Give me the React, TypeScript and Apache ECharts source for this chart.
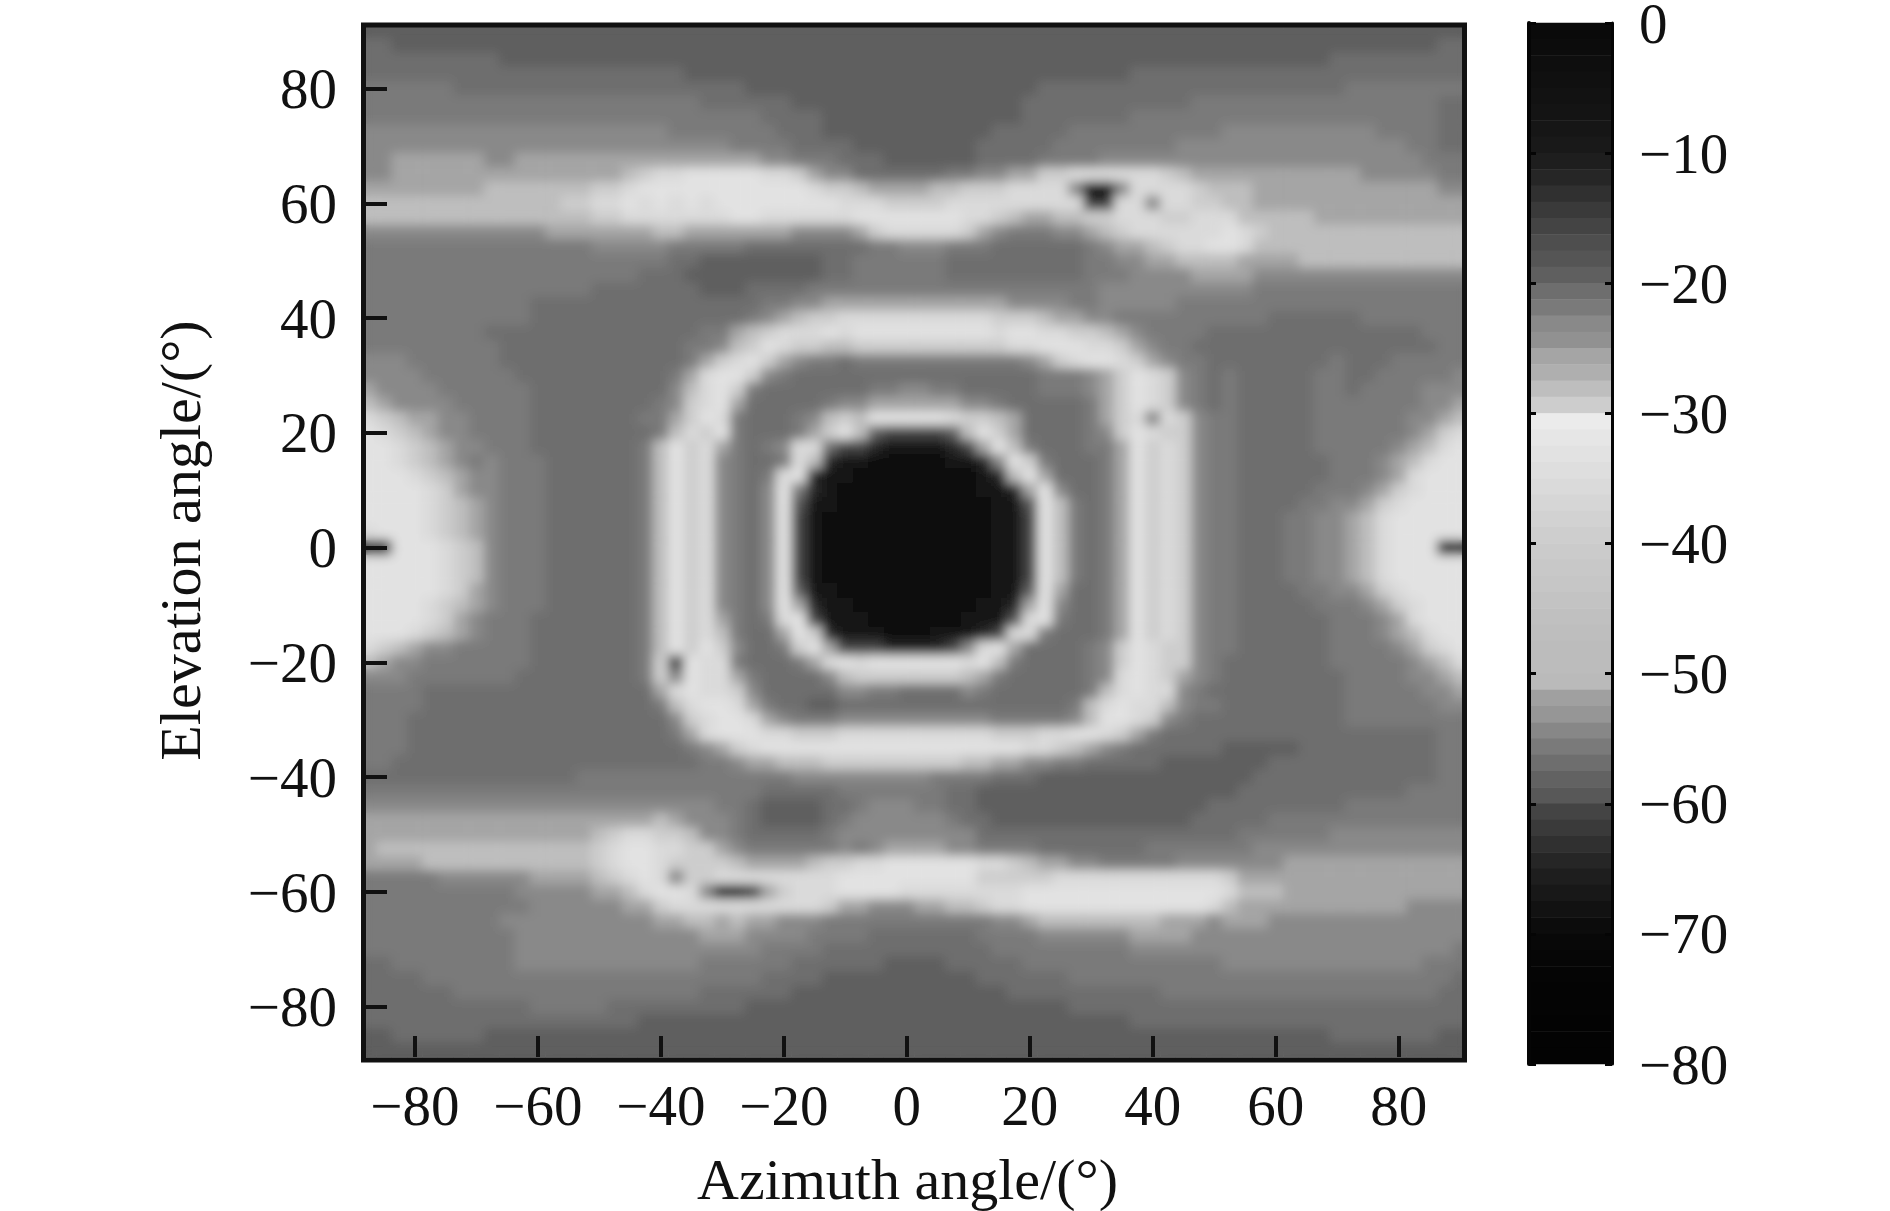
import React, { useEffect, useRef } from "react";
import * as echarts from "echarts";

const azimuthCategories = ["-87.5","-85","-82.5","-80","-77.5","-75","-72.5","-70","-67.5","-65","-62.5","-60","-57.5","-55","-52.5","-50","-47.5","-45","-42.5","-40","-37.5","-35","-32.5","-30","-27.5","-25","-22.5","-20","-17.5","-15","-12.5","-10","-7.5","-5","-2.5","0","2.5","5","7.5","10","12.5","15","17.5","20","22.5","25","27.5","30","32.5","35","37.5","40","42.5","45","47.5","50","52.5","55","57.5","60","62.5","65","67.5","70","72.5","75","77.5","80","82.5","85","87.5","90"];
const elevationCategories = [...azimuthCategories];

// dB value of every code used in the table below
const levelCodes: Record<string, number> = {
  "0": -3, "1": -8, "2": -12, "3": -15.5, "4": -18, "5": -19.5, "6": -21, "7": -22, "8": -23.5, "9": -25.5,
  a: -28, b: -29.5, c: -36, d: -32.5, x: -75, y: -62, z: -54,
};

// elevation 90 (first row) to -87.5 (last row); azimuth -87.5 to 90, grouped in eights
const patternRows = [
"55555555 55555555 55555555 55555555 55555555 55555555 55555555 55555555 55555555",
"66555555 55555555 55555555 55555555 55555555 55555555 55555555 55555555 55555566",
"66666666 65555555 55555555 55555555 55555555 55555555 55555555 55555556 66666666",
"66666666 66666666 66666555 55555555 55555555 55555555 55666666 66666666 66666666",
"77777766 66666666 66666666 65555555 55555555 55556666 66666666 66666666 77777777",
"77777777 77777777 77777766 66665555 55555555 55566666 66666677 77777777 77777766",
"77777777 77777777 77777777 77666655 55555555 55566666 66777777 77777777 77777766",
"88888888 88888888 88887777 77766655 55555555 56666677 77777777 88888888 88777766",
"88888888 88888888 88888888 77776666 55555555 66666777 77777888 88888888 88887766",
"88999999 88999999 99999999 99887776 66555555 66667777 88888888 88888888 88888777",
"88999999 99999999 9abccddd ddccb988 66666677 8899bbcc ccccba99 99999999 98888877",
"99999999 aaaaaaab bcdddddd dddddcbb a9999aab bbcccczx xzccccba aa999999 99999988",
"aaaaaaaa aaaaabbc cdcdcdcd dddddddc ccbbbbcc cccccccy ycczccbb aa999999 99999999",
"aaaaaaaa aaaaaaab bccccccc ddcccccc dddddddc cba99aab bcccbbcc caaaaa99 99999999",
"88888888 88889999 999aa999 99998888 9bcccccb 98777889 abcccccc dcbaaaaa aaaaaaaa",
"77777777 77777778 88887777 76666666 67788877 76666667 899abccd dcaaaaaa aaaaaaaa",
"77777777 77777777 77776655 55555566 77777766 66666667 78899aaa a9999aaa aaaaaaaa",
"77777777 77777777 77666555 55555566 77777766 66666667 77888899 99888888 88888888",
"77777777 77777776 66666655 56666777 77777777 77777777 88888888 88777777 77777777",
"77777777 77766666 66666666 66778899 99999999 99888877 88888777 77777777 77777777",
"77777777 77766666 66666666 6789abbc cccccccc cbbba998 87777777 77766666 67777777",
"77777777 66666666 66666677 9abcccdc dddddddd dcddccbb a9877776 66666666 66666777",
"77777777 76666666 66666778 abdcbbaa bbbbbbbb bbccdddc cb987766 66666666 66666677",
"88877777 76666666 6666679b cdb98776 77777777 77789bcd dcb98776 66666667 66677777",
"88887777 77666666 666679cd db876666 66666666 66667778 9bdcb876 76666677 66777778",
"98888777 77766666 66668acd b7666666 67788776 66667778 9bdcb876 76666677 67777888",
"a9888877 77766666 66678bcd 96666678 89999998 87666667 9bdcb876 76666677 77777889",
"cba99887 77766666 66779bdc 7666 78ab adddddcb ba966667 9bczcb87 76666677 7777889a",
"dcba9887 77766666 6667acbd 7666 79bd a5333 35a db966667 8bdcbb87 76666677 777789bc",
"ddcba988 77766666 667adbc9 7678cc63 32111123 9da76667 79dbcb87 76666677 77789acd",
"ddcba987 87776666 667adbc8 7667ca21 10000011 28db7666 79dbcb87 76666667 7789acdd",
"dddcba98 87776666 667adbc8 767cd211 00000000 12ad9666 79dbcb87 76666667 7789cddd",
"ddddcb98 87776666 667adbc8 768d7210 00000000 1129d866 79dbcb87 76666677 789bcddd",
"ddddcba9 87776666 667adbc8 768d4110 00000000 0114da76 79dbcb87 76666778 89bcdddd",
"ddddcba9 87776666 667adbc8 768d3100 00000000 0113da76 79dbcb87 76667788 9acddddd",
"cdddcba9 87776666 667adbc8 768d3100 00000000 0113da76 79dbcb87 76667788 9acddddd",
"xxdddcba 87776666 667adbc8 768d3100 00000000 0113da76 79dbcb87 76667788 9acdddxx",
"dddddcba 87776666 667adbc8 768d3100 00000000 0113da76 79dbcb87 76667788 9acddddd",
"dddddcba 87776666 667adbc8 768d3100 00000000 0113da76 79dbcb87 76667788 9acddddd",
"dddddcb9 87776666 667adbc8 768d5110 00000000 0115d966 79dbcb87 76666778 89bcdddd",
"ddddcba9 87776666 667adbc8 768d9211 00000000 1129d866 79dbcb87 76666677 789bcddd",
"ddddcb98 77766666 667adbc9 767cd311 10000001 114cd766 79dbcb87 76666667 7789cddd",
"dddcba98 77766666 667adbca 7669db21 11000111 23cc7666 79dbcb87 76666667 7789acdd",
"cba98877 77766666 667adbdb 8667bd93 33222238 cd966667 8bdcbb87 76666667 77789bcd",
"a9887777 77766666 667bydcc 766679cd cddddddc da766667 8bdcbb87 66666667 777789ac",
"88877777 77666666 667bzdcc 97666 68a bbbbbbba 97666667 8cdcb987 66666666 7777889a",
"77776666 66666666 6669cdcc b8666668 87766668 76666667 acdcc876 66666666 77777889",
"77776666 66666666 6667acdd c9766556 66666666 6666667a cdcca877 66666666 77777788",
"77766666 66666666 66668bcd dc987778 88888888 8777778a ddcb8766 66666666 77777777",
"77766666 66666666 666679cd ddccbbbc cccccccc cbbbccdd cb976666 66666666 66666677",
"77766666 66666666 66666789 bcdddddd dddddddd dddccba9 87666666 55555666 66666677",
"77666666 66666666 66666677 899aaabb bbbbbbba a9988776 66665555 55566666 66666677",
"66666666 66666677 77777777 77778888 88888777 76665555 55555555 55666666 66666677",
"77777777 77777777 77777777 77666667 77777766 55555555 55555555 56666666 66667777",
"88888888 88888888 88888887 76555566 78887766 55555555 55555556 66666666 77777777",
"99999999 99999999 999a9888 76555567 88888876 65555555 55555566 66677777 77777777",
"99999999 9999999a bccbba88 76666678 88888888 66666666 66666666 67777778 88888888",
"9aaaaaaa aaaaaaab cddccbb9 87777778 78999988 77776666 66677777 77888888 88888888",
"9999aaaa aaaaaaab cddcbbbb a9999abb ccdddddd ccba9988 77777888 88889999 99999999",
"77777888 8889999a bcdczbbc cccccccd dddddddd bbbbbccc cccccccc b9999999 99999999",
"77777777 77888889 9acddczx xy9bcccd dddccccc cccddddd dddddddd caaa9999 99999999",
"77777777 77788888 899bcccc ccccccb9 988899aa bccddddd dddddddc a9999999 99998888",
"77777777 78888888 88899aa9 a9988877 77777777 7889aaaa aaaa9998 99988888 88888888",
"77777777 77888888 88888899 98888777 76666666 77778888 88999988 88888888 88888888",
"77777777 77888888 88888888 88777766 66666666 67777777 77888888 88888888 88888887",
"66777777 77888888 88888877 77776666 66555566 66677777 77777777 88888888 88888777",
"66667777 77777777 77777777 77666655 55555555 66666677 77777777 77777777 77777776",
"66666677 77777777 77777766 66665555 55555555 55666666 66667777 77777777 77777766",
"66666666 66677777 66666666 65555555 55555555 55555566 66666666 66666666 66666666",
"66666666 66666666 66555555 55555555 55555555 55555555 55666666 66666666 66666666",
"55666666 55555555 55555555 55555555 55555555 55555555 55555555 55555556 66666655",
"55555555 55555555 55555555 55555555 55555555 55555555 55555555 55555555 55555555",
];

// colour bar: grey of each 1.25 dB step, from 0 dB down to -80 dB
const barGreys = [
  10, 12, 14, 16, 18, 20, 22, 25,
  30, 38, 48, 58, 68, 78, 85, 95,
  110, 122, 137, 145, 165, 175, 190, 205,
  235, 230, 226, 222, 218, 214, 210, 206,
  203, 200, 198, 195, 192, 190, 188, 188,
  186, 160, 150, 135, 122, 110, 98, 88,
  68, 58, 48, 38, 30, 24, 18, 12,
  8, 6, 5, 4, 4, 3, 3, 3,
];

const FONT = "Liberation Serif";
const INK = "#111111";
const SVG_NS = "http://www.w3.org/2000/svg";

// the reference is a soft, upscaled image: soften the heatmap cells with an SVG filter
function softenCells(dom: HTMLElement) {
  const svg = dom.querySelector("svg");
  if (!svg) return;
  const paths = Array.from(svg.querySelectorAll("path")).filter((p) => {
    const fill = p.getAttribute("fill");
    if (!fill || fill === "none") return false;
    const b = (p as SVGGraphicsElement).getBBox();
    return b.x < 1480 && b.width > 10 && b.width < 22 && b.height > 10 && b.height < 22;
  });
  if (!paths.length) return;
  const defs = document.createElementNS(SVG_NS, "defs");
  defs.innerHTML =
    '<filter id="soft-cells" filterUnits="userSpaceOnUse" x="340" y="0" width="1150" height="1090">' +
    '<feGaussianBlur in="SourceGraphic" stdDeviation="5.5" result="b"/>' +
    '<feMerge><feMergeNode in="SourceGraphic"/><feMergeNode in="b"/></feMerge></filter>' +
    '<clipPath id="plot-clip"><rect x="363" y="25" width="1102" height="1035"/></clipPath>';
  svg.insertBefore(defs, svg.firstChild);
  const clip = document.createElementNS(SVG_NS, "g");
  clip.setAttribute("clip-path", "url(#plot-clip)");
  const g = document.createElementNS(SVG_NS, "g");
  g.setAttribute("filter", "url(#soft-cells)");
  clip.appendChild(g);
  paths[0].parentNode!.insertBefore(clip, paths[0]);
  paths.forEach((p) => g.appendChild(p));
}

export default function App() {
  const ref = useRef<HTMLDivElement>(null);
  useEffect(() => {
    const chart = echarts.init(ref.current!, undefined, { renderer: "svg" });
    const cells: number[][] = [];
    patternRows.forEach((raw, r) => {
      const row = raw.replace(/ /g, "");
      const yIndex = elevationCategories.length - 1 - r;
      for (let c = 0; c < azimuthCategories.length; c++) {
        cells.push([c, yIndex, levelCodes[row[c]]]);
      }
    });
    const STEP = 80 / barGreys.length;
    const pieces = barGreys.map((g, i) => ({
      gt: -STEP * (i + 1),
      lte: -STEP * i,
      color: `rgb(${g},${g},${g})`,
    }));
    const barLevels = barGreys.map((_, i) => String(-STEP * (barGreys.length - i - 0.5)));
    const barCells = barGreys.map((_, i) => [0, barGreys.length - 1 - i, -STEP * (i + 0.5)]);
    const minusLabel = (v: string | number) => String(v).replace("-", "\u2212");
    const every20 = (_: number, v: string) => Number(v) % 20 === 0;
    const textStyle = { fontFamily: FONT, fontSize: 57, color: INK };

    chart.setOption({
      animation: false,
      backgroundColor: "#ffffff",
      textStyle: { fontFamily: FONT },
      grid: [
        { left: 361, top: 24, width: 1107, height: 1033, outerBoundsMode: "none" },
        { left: 1529, top: 23, width: 83, height: 1041, outerBoundsMode: "none" },
      ],
      xAxis: [
        {
          type: "category",
          data: azimuthCategories,
          gridIndex: 0,
          z: 10,
          axisLine: { show: false },
          axisTick: { show: true, inside: true, length: 21, alignWithLabel: true, interval: every20, lineStyle: { color: INK, width: 4 } },
          axisLabel: { interval: every20, formatter: minusLabel, margin: 20, hideOverlap: false, ...textStyle },
          name: "Azimuth angle/(\u00b0)",
          nameLocation: "middle",
          nameGap: 93,
          nameTextStyle: { fontFamily: FONT, fontSize: 58, color: INK, padding: [0, 14, 0, 0] },
          splitLine: { show: false },
        },
        { type: "category", data: ["bar"], gridIndex: 1, show: false },
      ],
      yAxis: [
        {
          type: "category",
          data: elevationCategories,
          gridIndex: 0,
          z: 10,
          axisLine: { show: false },
          axisTick: { show: true, inside: true, length: 26, alignWithLabel: true, interval: every20, lineStyle: { color: INK, width: 4 } },
          axisLabel: { interval: every20, formatter: minusLabel, margin: 24, ...textStyle },
          name: "Elevation angle/(\u00b0)",
          nameLocation: "middle",
          nameGap: 152,
          nameTextStyle: { fontFamily: FONT, fontSize: 58, color: INK },
          splitLine: { show: false },
        },
        { type: "category", data: barLevels, gridIndex: 1, show: false },
        {
          type: "value",
          gridIndex: 1,
          position: "right",
          min: -80,
          max: 0,
          interval: 10,
          z: 10,
          axisLine: { show: true, lineStyle: { color: "#050505", width: 3 } },
          axisTick: { show: true, inside: true, length: 7, lineStyle: { color: "#050505", width: 3 } },
          axisLabel: { formatter: minusLabel, margin: 27, align: "left", lineHeight: 38, padding: [0, 0, 6, 0], ...textStyle },
          splitLine: { show: false },
        },
        {
          type: "value",
          gridIndex: 1,
          position: "left",
          min: -80,
          max: 0,
          interval: 10,
          z: 10,
          axisLine: { show: true, lineStyle: { color: "#050505", width: 4 } },
          axisTick: { show: true, inside: true, length: 7, lineStyle: { color: "#050505", width: 3 } },
          axisLabel: { show: false },
          splitLine: { show: false },
        },
      ],
      visualMap: {
        type: "piecewise",
        show: false,
        dimension: 2,
        seriesIndex: [0, 1],
        pieces,
      },
      series: [
        {
          type: "heatmap",
          xAxisIndex: 0,
          yAxisIndex: 0,
          data: cells,
          silent: true,
          progressive: 0,
          itemStyle: { borderWidth: 0 },
          emphasis: { disabled: true },
        },
        {
          type: "heatmap",
          xAxisIndex: 1,
          yAxisIndex: 1,
          data: barCells,
          silent: true,
          progressive: 0,
          itemStyle: { borderWidth: 0 },
          emphasis: { disabled: true },
        },
      ],
      graphic: [
        {
          type: "rect",
          z: 100,
          silent: true,
          shape: { x: 363.5, y: 25, width: 1101, height: 1035 },
          style: { fill: "none", stroke: INK, lineWidth: 5 },
        },
      ],
    });
    softenCells(ref.current!);
    return () => chart.dispose();
  }, []);
  return (
    <div
      ref={ref}
      style={{ position: "fixed", left: 0, top: 0, width: 1890, height: 1211, background: "#fff" }}
    />
  );
}
